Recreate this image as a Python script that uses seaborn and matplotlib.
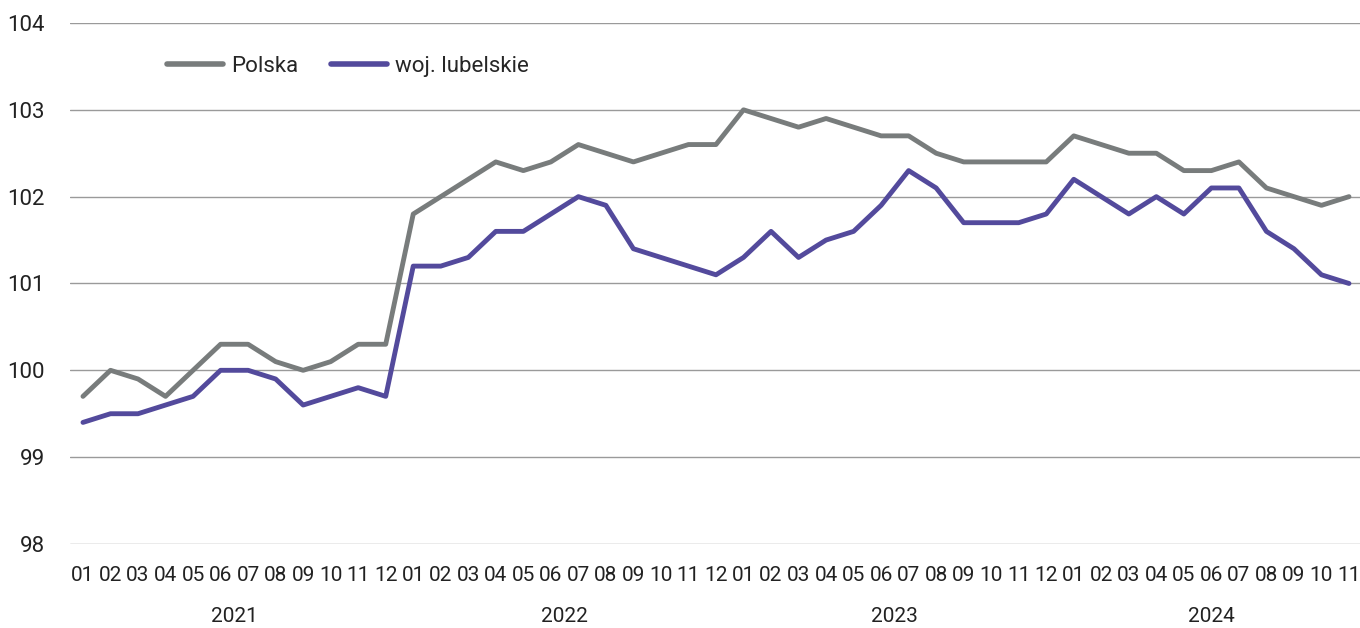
import pandas as pd
import seaborn as sns
import matplotlib.pyplot as plt
import matplotlib.transforms as mtransforms

# dane (indeksy, miesiące 2021-01 .. 2024-11)
lata = ["2021", "2022", "2023", "2024"]
miesiace = ["01", "02", "03", "04", "05", "06", "07", "08", "09", "10", "11", "12"]

polska = [99.7, 100.0, 99.9, 99.7, 100.0, 100.3, 100.3, 100.1, 100.0, 100.1, 100.3, 100.3,
          101.8, 102.0, 102.2, 102.4, 102.3, 102.4, 102.6, 102.5, 102.4, 102.5, 102.6, 102.6,
          103.0, 102.9, 102.8, 102.9, 102.8, 102.7, 102.7, 102.5, 102.4, 102.4, 102.4, 102.4,
          102.7, 102.6, 102.5, 102.5, 102.3, 102.3, 102.4, 102.1, 102.0, 101.9, 102.0]

lubelskie = [99.4, 99.5, 99.5, 99.6, 99.7, 100.0, 100.0, 99.9, 99.6, 99.7, 99.8, 99.7,
             101.2, 101.2, 101.3, 101.6, 101.6, 101.8, 102.0, 101.9, 101.4, 101.3, 101.2, 101.1,
             101.3, 101.6, 101.3, 101.5, 101.6, 101.9, 102.3, 102.1, 101.7, 101.7, 101.7, 101.8,
             102.2, 102.0, 101.8, 102.0, 101.8, 102.1, 102.1, 101.6, 101.4, 101.1, 101.0]

etykiety = [m for r in lata for m in miesiace][:len(polska)]
n = len(polska)

df = pd.DataFrame({
    "idx": list(range(n)) * 2,
    "wartosc": polska + lubelskie,
    "seria": ["Polska"] * n + ["woj. lubelskie"] * n,
})

sns.set_style("white")
plt.rcParams["font.family"] = ["Roboto", "DejaVu Sans"]

fig = plt.figure(figsize=(13.6, 6.28), dpi=100)
ax = fig.add_axes([0.0515, 0.1338, 0.9485, 0.8296])

sns.lineplot(data=df, x="idx", y="wartosc", hue="seria",
             palette={"Polska": "#787c7c", "woj. lubelskie": "#534a9c"},
             linewidth=3.5, ax=ax, zorder=3)

ax.set_ylim(98, 104)
ax.set_yticks(range(98, 105))
ax.set_xlim(-0.47, n - 0.6)
ax.set_xticks(range(n))
ax.set_xticklabels(etykiety, fontsize=15, color="#222222")
ax.tick_params(axis="y", labelsize=16, labelcolor="#222222", length=0, pad=18)
ax.tick_params(axis="x", length=0, pad=16)
ax.set_xlabel("")
ax.set_ylabel("")
for s in ax.spines.values():
    s.set_visible(False)
ax.yaxis.grid(True, color="#9a9a9a", linewidth=1)
ax.xaxis.grid(False)

# etykiety lat pod miesiącami
trans = mtransforms.blended_transform_factory(ax.transData, ax.transAxes)
for i, rok in enumerate(lata):
    start = i * 12
    end = min(start + 11, n - 1)
    ax.text((start + end) / 2, -0.14, rok, transform=trans, ha="center", va="center",
            fontsize=15, color="#222222")

leg = ax.legend(loc="upper left", bbox_to_anchor=(0.06, 0.975), ncol=2, frameon=False,
                fontsize=16, handlelength=2.5, handletextpad=0.35, columnspacing=1.5)
for h in leg.get_lines():
    h.set_linewidth(4)

fig.savefig("out.png", dpi=100)
